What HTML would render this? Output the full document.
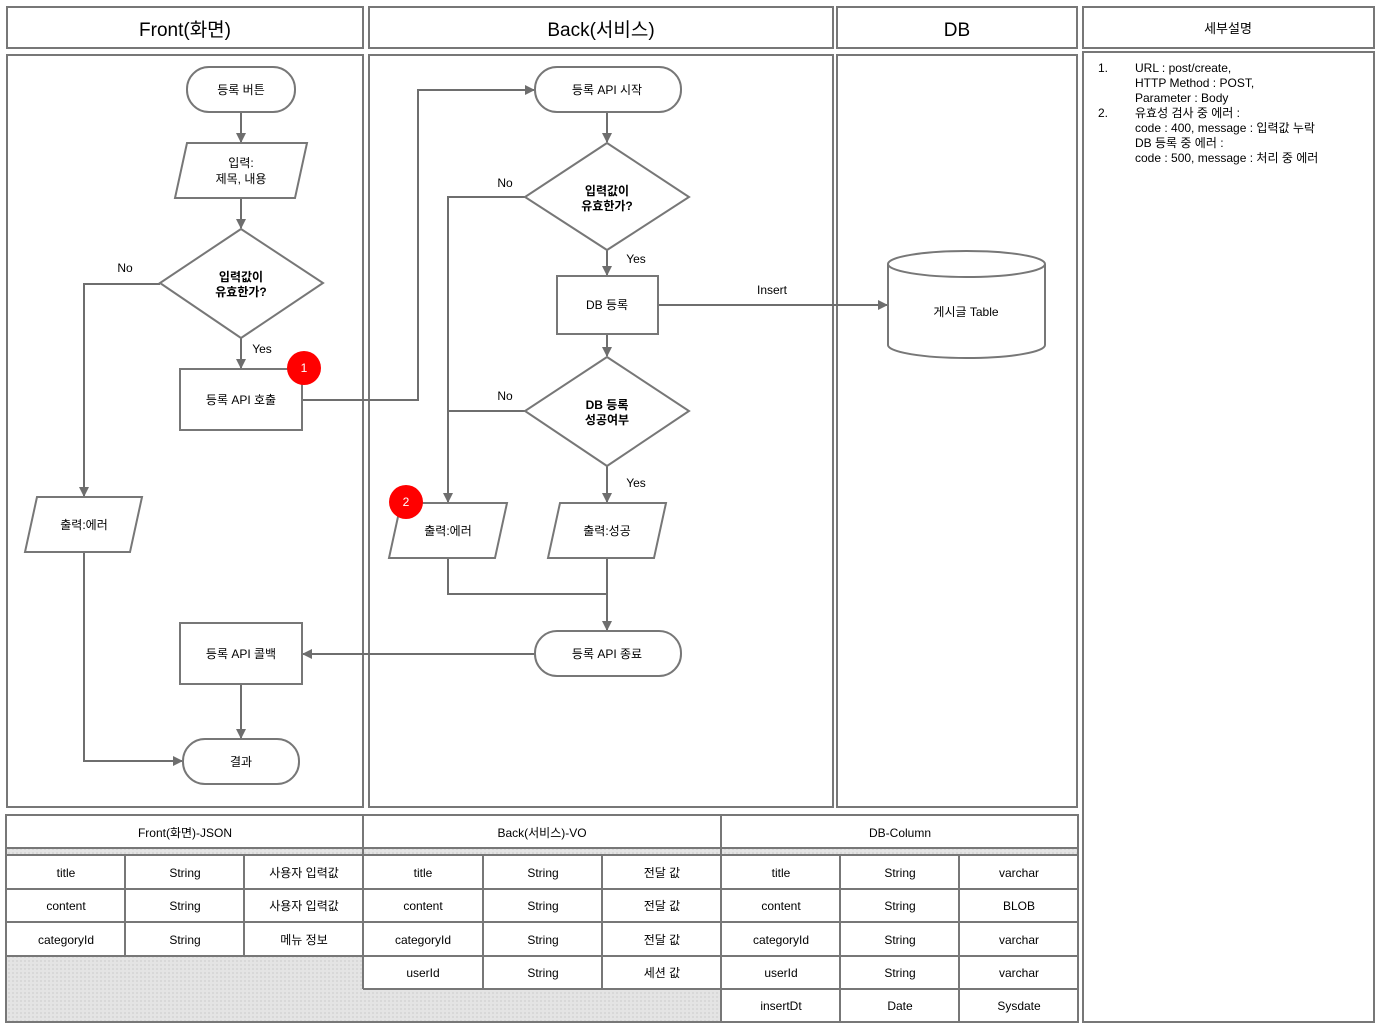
<!DOCTYPE html>
<html><head><meta charset="utf-8">
<style>
html,body{margin:0;padding:0;background:#fff;}
svg{display:block;}
text{font-family:"Liberation Sans","Noto Sans CJK KR",sans-serif;fill:#000;}
</style></head><body>
<svg width="1381" height="1028" viewBox="0 0 1381 1028" xmlns="http://www.w3.org/2000/svg">
<defs>
<marker id="a" markerWidth="10" markerHeight="10" refX="9" refY="5" orient="auto" markerUnits="userSpaceOnUse">
<path d="M0,0 L10,5 L0,10 z" fill="#6e6e6e"/></marker>
<pattern id="g" width="4" height="4" patternUnits="userSpaceOnUse"><rect width="4" height="4" fill="#e4e4e4"/><rect width="2" height="2" fill="#d8d8d8"/></pattern>
</defs>
<g fill="none" stroke="#777" stroke-width="2">
<rect x="7" y="7" width="356" height="41"/>
<rect x="369" y="7" width="464" height="41"/>
<rect x="837" y="7" width="240" height="41"/>
<rect x="1083" y="7" width="291" height="41"/>
<rect x="7" y="55" width="356" height="752"/>
<rect x="369" y="55" width="464" height="752"/>
<rect x="837" y="55" width="240" height="752"/>
<rect x="1083" y="52" width="291" height="970"/>
</g>
<g font-size="19" text-anchor="middle">
<text x="185" y="36">Front(화면)</text>
<text x="601" y="36">Back(서비스)</text>
<text x="957" y="36">DB</text>
</g>
<text x="1228" y="33" font-size="13" text-anchor="middle">세부설명</text>
<g font-size="12">
<text x="1098" y="72">1.</text><text x="1135" y="72">URL : post/create,</text>
<text x="1135" y="87">HTTP Method : POST,</text>
<text x="1135" y="102">Parameter : Body</text>
<text x="1098" y="117">2.</text><text x="1135" y="117">유효성 검사 중 에러 :</text>
<text x="1135" y="132">code : 400, message : 입력값 누락</text>
<text x="1135" y="147">DB 등록 중 에러 :</text>
<text x="1135" y="162">code : 500, message : 처리 중 에러</text>
</g>

<!-- table -->
<rect x="6" y="956" width="357" height="66" fill="url(#g)"/>
<rect x="363" y="989" width="358" height="33" fill="url(#g)"/>
<rect x="6" y="848" width="1072" height="7" fill="url(#g)"/>
<g fill="none" stroke="#777" stroke-width="2">
<rect x="6" y="815" width="1072" height="207"/>
<line x1="6" y1="848" x2="1078" y2="848"/>
<line x1="6" y1="855" x2="1078" y2="855"/>
<line x1="363" y1="815" x2="363" y2="989"/>
<line x1="721" y1="815" x2="721" y2="1022"/>
<line x1="6" y1="889" x2="1078" y2="889"/>
<line x1="6" y1="922" x2="1078" y2="922"/>
<line x1="6" y1="956" x2="1078" y2="956"/>
<line x1="363" y1="989" x2="1078" y2="989"/>
<line x1="125" y1="855" x2="125" y2="956"/>
<line x1="244" y1="855" x2="244" y2="956"/>
<line x1="483" y1="855" x2="483" y2="989"/>
<line x1="602" y1="855" x2="602" y2="989"/>
<line x1="840" y1="855" x2="840" y2="1022"/>
<line x1="959" y1="855" x2="959" y2="1022"/>
</g>
<g font-size="12" text-anchor="middle">
<text x="185" y="837">Front(화면)-JSON</text>
<text x="542" y="837">Back(서비스)-VO</text>
<text x="900" y="837">DB-Column</text>
<text x="66" y="877">title</text><text x="185" y="877">String</text><text x="304" y="877">사용자 입력값</text>
<text x="66" y="910">content</text><text x="185" y="910">String</text><text x="304" y="910">사용자 입력값</text>
<text x="66" y="944">categoryId</text><text x="185" y="944">String</text><text x="304" y="944">메뉴 정보</text>
<text x="423" y="877">title</text><text x="543" y="877">String</text><text x="662" y="877">전달 값</text>
<text x="423" y="910">content</text><text x="543" y="910">String</text><text x="662" y="910">전달 값</text>
<text x="423" y="944">categoryId</text><text x="543" y="944">String</text><text x="662" y="944">전달 값</text>
<text x="423" y="977">userId</text><text x="543" y="977">String</text><text x="662" y="977">세션 값</text>
<text x="781" y="877">title</text><text x="900" y="877">String</text><text x="1019" y="877">varchar</text>
<text x="781" y="910">content</text><text x="900" y="910">String</text><text x="1019" y="910">BLOB</text>
<text x="781" y="944">categoryId</text><text x="900" y="944">String</text><text x="1019" y="944">varchar</text>
<text x="781" y="977">userId</text><text x="900" y="977">String</text><text x="1019" y="977">varchar</text>
<text x="781" y="1010">insertDt</text><text x="900" y="1010">Date</text><text x="1019" y="1010">Sysdate</text>
</g>

<!-- connectors -->
<g fill="none" stroke="#6e6e6e" stroke-width="2" marker-end="url(#a)">
<line x1="241" y1="112" x2="241" y2="142"/>
<line x1="241" y1="198" x2="241" y2="228"/>
<line x1="241" y1="338" x2="241" y2="368"/>
<polyline points="160,284 84,284 84,496"/>
<polyline points="84,552 84,761 182,761"/>
<polyline points="302,400 418,400 418,90 534,90"/>
<line x1="607" y1="112" x2="607" y2="142"/>
<line x1="607" y1="250" x2="607" y2="275"/>
<line x1="607" y1="334" x2="607" y2="356"/>
<line x1="607" y1="466" x2="607" y2="502"/>
<polyline points="525,197 448,197 448,502"/>
<polyline points="607,558 607,630"/>
<line x1="535" y1="654" x2="303" y2="654"/>
<line x1="241" y1="684" x2="241" y2="738"/>
<line x1="658" y1="305" x2="887" y2="305"/>
</g>
<g fill="none" stroke="#6e6e6e" stroke-width="2">
<line x1="525" y1="411" x2="448" y2="411"/>
<polyline points="448,558 448,594 607,594"/>
</g>

<!-- shapes -->
<g fill="#fff" stroke="#777" stroke-width="2">
<rect x="187" y="67" width="108" height="45" rx="22"/>
<polygon points="187,143 307,143 295,198 175,198"/>
<polygon points="241,229 323,283 241,338 160,283"/>
<rect x="180" y="369" width="122" height="61"/>
<polygon points="37,497 142,497 130,552 25,552"/>
<rect x="180" y="623" width="122" height="61"/>
<rect x="183" y="739" width="116" height="45" rx="22"/>
<rect x="535" y="67" width="146" height="45" rx="22"/>
<polygon points="607,143 689,197 607,250 525,197"/>
<rect x="557" y="276" width="101" height="58"/>
<polygon points="607,357 689,411 607,466 525,411"/>
<polygon points="401,503 507,503 495,558 389,558"/>
<polygon points="560,503 666,503 654,558 548,558"/>
<rect x="535" y="631" width="146" height="45" rx="22"/>
<path d="M888,264 L888,345 A78.5,13 0 0 0 1045,345 L1045,264 A78.5,13 0 0 0 888,264 Z"/>
<path d="M888,264 A78.5,13 0 0 0 1045,264" fill="none"/>
</g>
<circle cx="304" cy="368" r="17" fill="#f00"/>
<circle cx="406" cy="502" r="17" fill="#f00"/>
<g font-size="12" text-anchor="middle">
<text x="304" y="372" fill="#fff" style="fill:#fff">1</text>
<text x="406" y="506" style="fill:#fff">2</text>
<text x="241" y="94">등록 버튼</text>
<text x="241" y="167">입력:</text>
<text x="241" y="183">제목, 내용</text>
<text x="241" y="281" font-weight="bold">입력값이</text>
<text x="241" y="296" font-weight="bold">유효한가?</text>
<text x="241" y="404">등록 API 호출</text>
<text x="84" y="529">출력:에러</text>
<text x="241" y="658">등록 API 콜백</text>
<text x="241" y="766">결과</text>
<text x="607" y="94">등록 API 시작</text>
<text x="607" y="195" font-weight="bold">입력값이</text>
<text x="607" y="210" font-weight="bold">유효한가?</text>
<text x="607" y="309">DB 등록</text>
<text x="607" y="409" font-weight="bold">DB 등록</text>
<text x="607" y="424" font-weight="bold">성공여부</text>
<text x="448" y="535">출력:에러</text>
<text x="607" y="535">출력:성공</text>
<text x="607" y="658">등록 API 종료</text>
<text x="966" y="316">게시글 Table</text>
<text x="125" y="272">No</text>
<text x="262" y="353">Yes</text>
<text x="505" y="187">No</text>
<text x="636" y="263">Yes</text>
<text x="505" y="400">No</text>
<text x="636" y="487">Yes</text>
<text x="772" y="294">Insert</text>
</g>
</svg>
</body></html>
